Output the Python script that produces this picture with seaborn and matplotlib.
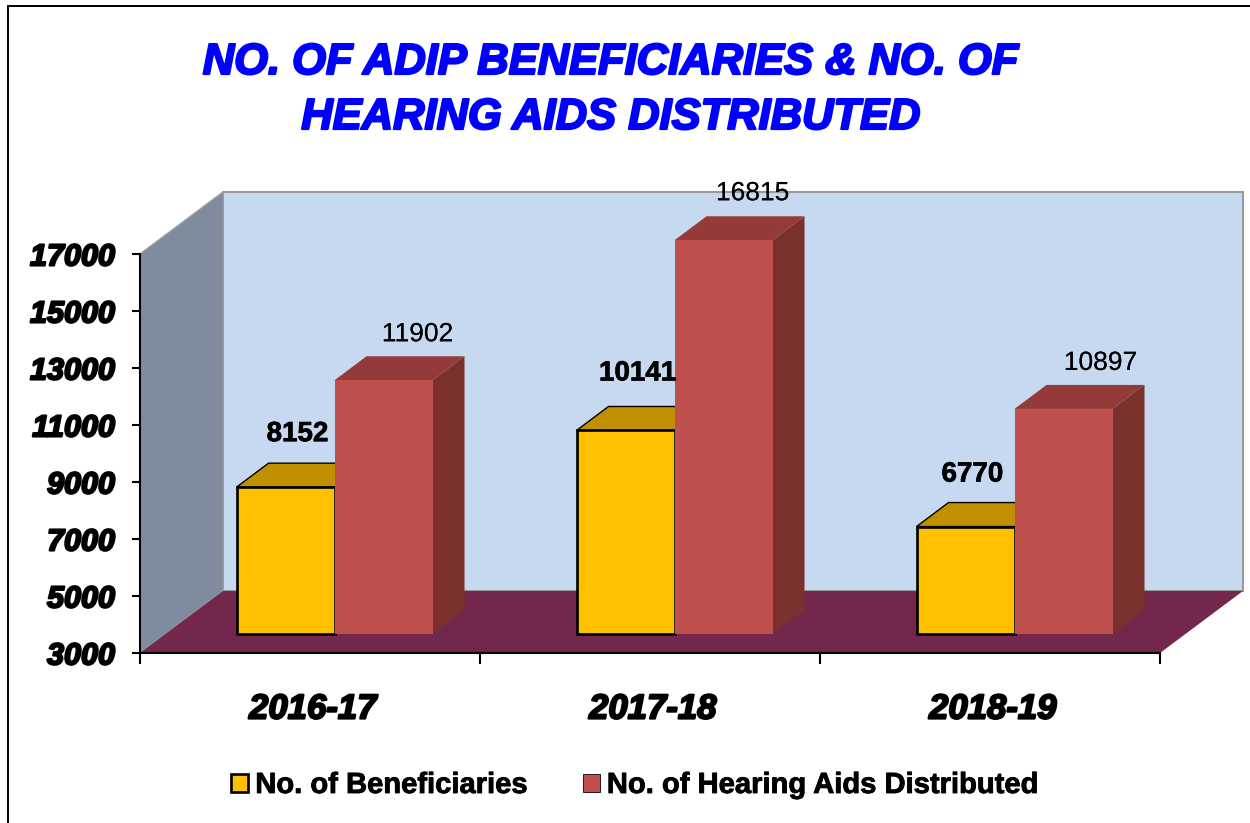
import pandas as pd
import matplotlib.pyplot as plt
import matplotlib.patheffects as pe
from matplotlib.lines import Line2D
from matplotlib.patches import Polygon
import seaborn as sns

years = ['2016-17', '2017-18', '2018-19']
beneficiaries = [8152, 10141, 6770]
hearing_aids = [11902, 16815, 10897]
y_ticks = [3000, 5000, 7000, 9000, 11000, 13000, 15000, 17000]

series_names = ['No. of Beneficiaries', 'No. of Hearing Aids Distributed']
title_lines = ['NO. OF ADIP BENEFICIARIES & NO. OF', 'HEARING AIDS DISTRIBUTED']

W, H = 1250, 823

# pixel position of the plot box
left, right, top, bottom = 140, 1160, 254, 653
px_x = (right - left) / 3
px_y = (bottom - top) / (y_ticks[-1] - y_ticks[0])

data = pd.DataFrame({
    'year': years * 2,
    'series': [series_names[0]] * 3 + [series_names[1]] * 3,
    'value': beneficiaries + hearing_aids,
})

sns.set_theme(style='white')
plt.rcParams['font.family'] = ['Liberation Sans', 'DejaVu Sans']

fig = plt.figure(figsize=(W / 100, H / 100), dpi=100, facecolor='white')
ax = fig.add_axes([left / W, 1 - bottom / H, (right - left) / W, (bottom - top) / H])
ax.patch.set_alpha(0)

sns.barplot(data=data, x='year', y='value', hue='series', ax=ax,
            palette=['#FFC000', '#C0504D'], width=196 / px_x, gap=0,
            saturation=1, errorbar=None, linewidth=0)

ax.set_xlim(-0.5, 2.5)
ax.set_ylim(y_ticks[0], y_ticks[-1])
ax.set(xlabel='', ylabel='')


def dx(px):
    return px / px_x


def dy(px):
    return px / px_y


def solid(points, color, z, edge='none', lw=0):
    ax.add_patch(Polygon(points, closed=True, facecolor=color, edgecolor=edge,
                         linewidth=lw, clip_on=False, zorder=z))


# walls and floor of the 3d box
x0, x1 = -0.5, 2.5
y0, y1 = y_ticks[0], y_ticks[-1]
wall_x, wall_y = dx(83), dy(62)
solid([(x0 + wall_x, y0 + wall_y), (x1 + wall_x, y0 + wall_y),
       (x1 + wall_x, y1 + wall_y), (x0 + wall_x, y1 + wall_y)],
      '#C6D9F1', 0.5, '#9A9A9A', 1.5)
solid([(x0, y0), (x0 + wall_x, y0 + wall_y), (x0 + wall_x, y1 + wall_y), (x0, y1)],
      '#7F8C9F', 0.6, '#9A9A9A', 1)
solid([(x0, y0), (x1, y0), (x1 + wall_x, y0 + wall_y), (x0 + wall_x, y0 + wall_y)],
      '#74274C', 0.7)

# bars sit part way into the box, depth is a bit under half of it
shift_x, shift_y = dx(24.5), dy(19)
depth_x, depth_y = dx(32), dy(24)
side_colors = ['#C09000', '#7A312E']
top_colors = ['#C09000', '#943A38']

# label nudges in px from the centre of the bar top
label_dx = [[-4, -4, -9], [18, 13, 21]]
label_dy = [[29, 33, 28], [22, 23, 22]]
label_weight = ['bold', 'normal']
label_size = [20, 19]
label_stroke = [0.5, 0]

for s, container in enumerate(ax.containers):
    z = 2 + s
    for i, bar in enumerate(container):
        value = bar.get_height()
        bx = bar.get_x() + shift_x
        bw = bar.get_width()
        by = y0 + shift_y
        ty = value + shift_y
        bar.set_x(bx)
        bar.set_y(by)
        bar.set_height(ty - by)
        bar.set_clip_on(False)
        bar.set_zorder(z + 0.2)
        edge = 'black' if s == 0 else 'none'
        bar.set_edgecolor(edge)
        bar.set_linewidth(1.9 if s == 0 else 0)
        solid([(bx + bw, by), (bx + bw + depth_x, by + depth_y),
               (bx + bw + depth_x, ty + depth_y), (bx + bw, ty)], side_colors[s], z)
        solid([(bx, ty), (bx + bw, ty), (bx + bw + depth_x, ty + depth_y),
               (bx + depth_x, ty + depth_y)], top_colors[s], z + 0.1, edge, 1 if s == 0 else 0)
        ax.text(bx + bw / 2 + depth_x / 2 + dx(label_dx[s][i]),
                ty + depth_y + dy(label_dy[s][i]), str(int(value)),
                ha='center', va='center', fontsize=label_size[s], color='black',
                weight=label_weight[s], zorder=6, clip_on=False,
                path_effects=[pe.withStroke(linewidth=label_stroke[s], foreground='black')])

# axes lines
for side in ['top', 'right']:
    ax.spines[side].set_visible(False)
for side in ['left', 'bottom']:
    ax.spines[side].set_color('black')
    ax.spines[side].set_linewidth(1.5)
    ax.spines[side].set_zorder(4)

thick = [pe.withStroke(linewidth=1.5, foreground='black')]

ax.set_yticks(y_ticks)
ax.set_yticklabels([str(v) for v in y_ticks])
ax.tick_params(axis='y', left=True, length=6, width=1.5, color='black', pad=12)
# year labels sit a little right of the middle of each slot
ax.set_xticks([i + dx(3) for i in range(3)])
ax.set_xticklabels(years)
ax.set_xticks([-0.5, 0.5, 1.5, 2.5], minor=True)
ax.tick_params(axis='x', which='major', bottom=False, pad=22.5)
ax.tick_params(axis='x', which='minor', bottom=True, length=8, width=1.5, color='black')
for lab in ax.get_yticklabels():
    lab.set(fontsize=22, weight='bold', style='italic', color='black', path_effects=thick)
for lab in ax.get_xticklabels():
    lab.set(fontsize=25, weight='bold', style='italic', color='black', path_effects=thick)

# title
blue = [pe.withStroke(linewidth=1.6, foreground='#0000FF')]
fig.text(611 / W, 1 - 63 / H, title_lines[0], ha='center', va='center', fontsize=31.3,
         weight='bold', style='italic', color='#0000FF', path_effects=blue)
fig.text(611 / W, 1 - 118 / H, title_lines[1], ha='center', va='center', fontsize=31.3,
         weight='bold', style='italic', color='#0000FF', path_effects=blue)

# legend along the bottom
sns.move_legend(ax, loc='center', bbox_to_anchor=(635 / W, 1 - 785 / H),
                bbox_transform=fig.transFigure, ncol=2, title=None, frameon=False,
                prop={'family': ['Liberation Sans'], 'weight': 'bold', 'size': 21},
                handlelength=0.58, handleheight=0.58, handletextpad=0.24,
                columnspacing=1.9, borderpad=0, labelcolor='black')
legend = ax.get_legend()
for handle, lw in zip(legend.legend_handles, [1.9, 0.6]):
    handle.set_edgecolor('black')
    handle.set_linewidth(lw)
for t in legend.get_texts():
    t.set_path_effects([pe.withStroke(linewidth=0.6, foreground='black')])

# outer frame of the chart, only top and left show
fig.add_artist(Line2D([8 / W, 8 / W], [0, 1 - 6 / H], color='black', lw=1.4))
fig.add_artist(Line2D([8 / W, 1], [1 - 6 / H, 1 - 6 / H], color='black', lw=1.4))

fig.savefig('out.png', dpi=100)
